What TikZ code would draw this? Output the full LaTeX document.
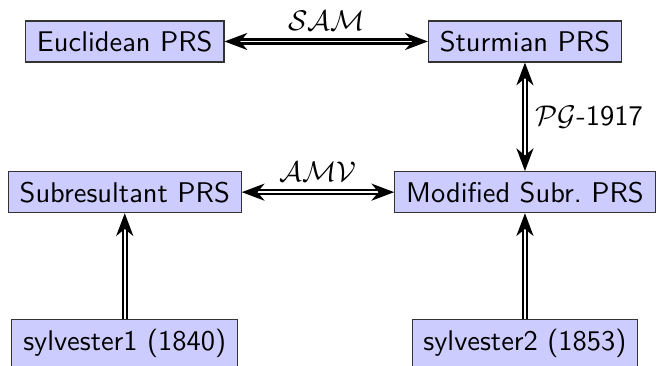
\documentclass[tikz,border=0pt]{standalone}
\usetikzlibrary{arrows.meta}

\tikzset{
  prsbox/.style={draw=black!80, fill=blue!20, font=\sffamily, inner xsep=4pt,
    minimum height=14.4pt},
  link/.style={thick, double, {Stealth[length=8pt,width=6pt,inset=2.5pt]}-{Stealth[length=8pt,width=6pt,inset=2.5pt]}},
  uplink/.style={thick, double, -{Stealth[length=8pt,width=6pt,inset=2.5pt]}}
}

\begin{document}
\begin{tikzpicture}
        \useasboundingbox (0, 0) rectangle (8.11, -4.517);

        % Draw the PRS nodes
        \node[prsbox] (euclid) at (1.54, -0.512) {Euclidean PRS};
        \node[prsbox] (sturm) at (6.48, -0.512) {Sturmian PRS};
        \node[prsbox] (subres) at (1.54, -2.372) {Subresultant PRS};
        \node[prsbox] (modsubres) at (6.48, -2.372) {Modified Subr.\ PRS};

        % Sylvester's papers (cut at the bottom edge)
        \node[prsbox] (sylv1) at (1.54, -4.233) {sylvester1 (1840)};
        \node[prsbox] (sylv2) at (6.48, -4.233) {sylvester2 (1853)};

        % Draw the arrows between the nodes
        \draw[link] (euclid) -- node[above] {$\mathcal{SAM}$} (sturm);
        \draw[link] (sturm) -- node[right] {$\mathcal{PG}$\textsf{-1917}} (modsubres);
        \draw[link] (subres) -- node[above] {$\mathcal{AMV}$} (modsubres);
        \draw[uplink] (sylv1) -- (subres);
        \draw[uplink] (sylv2) -- (modsubres);
    \end{tikzpicture}
\end{document}
